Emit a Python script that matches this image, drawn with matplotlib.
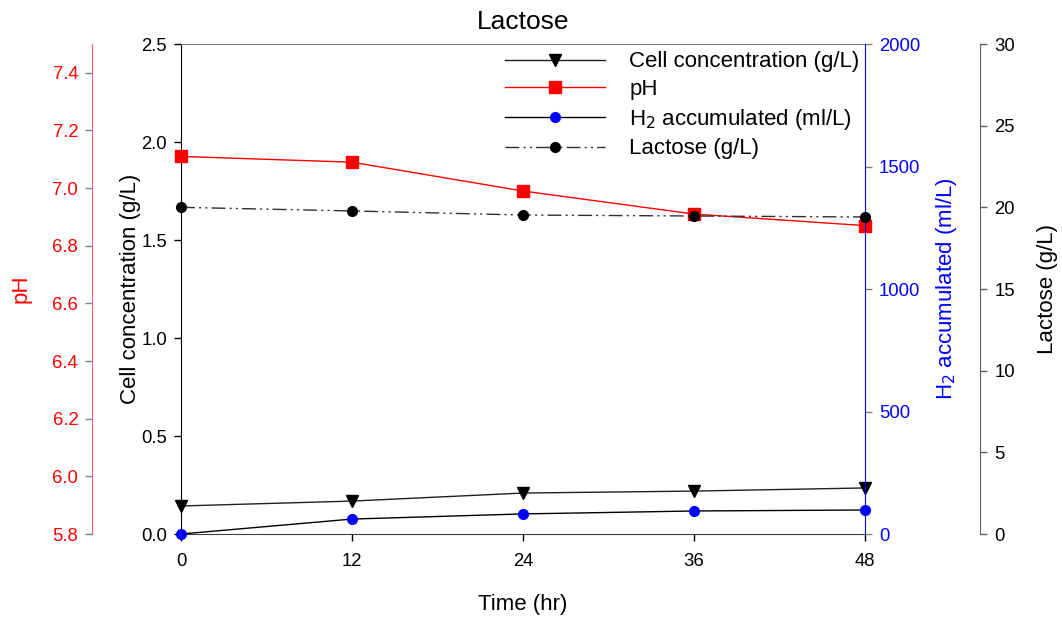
import matplotlib
matplotlib.use("Agg")
import matplotlib.pyplot as plt
from matplotlib.ticker import FormatStrFormatter

plt.rcParams['font.family'] = ['Liberation Sans', 'DejaVu Sans']
plt.rcParams['font.size'] = 13.3

time = [0, 12, 24, 36, 48]
cell_conc = [0.143, 0.168, 0.209, 0.219, 0.235]
ph = [7.11, 7.09, 6.99, 6.91, 6.87]
h2 = [0, 61, 82, 94, 98]
lactose = [20.0, 19.78, 19.53, 19.47, 19.41]

x_ticks = [0, 12, 24, 36, 48]
cell_ticks = [0.0, 0.5, 1.0, 1.5, 2.0, 2.5]
ph_ticks = [5.8, 6.0, 6.2, 6.4, 6.6, 6.8, 7.0, 7.2, 7.4]
h2_ticks = [0, 500, 1000, 1500, 2000]
lac_ticks = [0, 5, 10, 15, 20, 25, 30]

LABEL_FS = 16

fig = plt.figure(figsize=(10.62, 6.19), dpi=100)
ax = fig.add_axes([0.1704, 0.1373, 0.8145 - 0.1704, 0.9289 - 0.1373])

ax_ph = ax.twinx()
ax_h2 = ax.twinx()
ax_lac = ax.twinx()

tick_kw = dict(direction='out', length=5, width=1, pad=5)

# main axis (cell concentration)
ax.set_xlim(0, 48)
ax.set_ylim(0, 2.5)
ax.set_xticks(x_ticks)
ax.set_yticks(cell_ticks)
ax.yaxis.set_major_formatter(FormatStrFormatter('%.1f'))
ax.tick_params(axis='both', **tick_kw)
ax.tick_params(axis='x', pad=9)
ax.set_xlabel('Time (hr)', labelpad=17, fontsize=LABEL_FS)
ax.set_ylabel('Cell concentration (g/L)', labelpad=0, fontsize=LABEL_FS)
ax.spines['top'].set_color('#808080')
ax.spines['bottom'].set_color('#404040')
ax.spines['right'].set_visible(False)
ax.set_title('Lactose', fontsize=19, pad=11)

# pH axis
for s in ['top', 'right', 'bottom']:
    ax_ph.spines[s].set_visible(False)
ax_ph.spines['left'].set_visible(True)
ax_ph.spines['left'].set_position(('outward', 64))
ax_ph.spines['left'].set_color('#ff6666')
ax_ph.yaxis.set_ticks_position('left')
ax_ph.yaxis.set_label_position('left')
ax_ph.set_ylim(5.8, 7.5)
ax_ph.set_yticks(ph_ticks)
ax_ph.yaxis.set_major_formatter(FormatStrFormatter('%.1f'))
ax_ph.tick_params(axis='y', colors='red', **tick_kw)
ax_ph.tick_params(axis='y', color='#808080')
ax_ph.set_ylabel('pH', color='red', labelpad=15, fontsize=LABEL_FS)

# H2 axis
for s in ['top', 'left', 'bottom']:
    ax_h2.spines[s].set_visible(False)
ax_h2.spines['right'].set_color('blue')
ax_h2.set_ylim(0, 2000)
ax_h2.set_yticks(h2_ticks)
ax_h2.tick_params(axis='y', colors='blue', **tick_kw)
ax_h2.tick_params(axis='y', color='#808080')
ax_h2.set_ylabel('H$_2$ accumulated (ml/L)', color='blue', labelpad=10,
                 fontsize=LABEL_FS)

# Lactose axis
for s in ['top', 'left', 'bottom']:
    ax_lac.spines[s].set_visible(False)
ax_lac.spines['right'].set_position(('outward', 83))
ax_lac.spines['right'].set_color('#606060')
ax_lac.set_ylim(0, 30)
ax_lac.set_yticks(lac_ticks)
ax_lac.tick_params(axis='y', **tick_kw)
ax_lac.tick_params(axis='y', color='#606060')
ax_lac.set_ylabel('Lactose (g/L)', labelpad=16, fontsize=LABEL_FS)

l1, = ax.plot(time, cell_conc, color='#202020', lw=1, marker='v', ms=8,
              mfc='black', mec='black', clip_on=False, zorder=5,
              label='Cell concentration (g/L)')
l2, = ax_ph.plot(time, ph, color='red', lw=1, marker='s', ms=8,
                 mfc='red', mec='red', clip_on=False, zorder=5, label='pH')
l3, = ax_h2.plot(time, h2, color='black', lw=1, marker='o', ms=7,
                 mfc='blue', mec='blue', clip_on=False, zorder=5,
                 label='H$_2$ accumulated (ml/L)')
l4, = ax_lac.plot(time, lactose, color='#303030', lw=1, marker='o', ms=7,
                  mfc='black', mec='black', dashes=(10, 3, 1.5, 3, 1.5, 3),
                  clip_on=False, zorder=5, label='Lactose (g/L)')

leg = fig.legend(handles=[l1, l2, l3, l4], loc='upper left',
                 bbox_to_anchor=(505 / 1062, 0.917), frameon=False,
                 borderpad=0, borderaxespad=0,
                 handlelength=4.5, labelspacing=0.3, handletextpad=1.1,
                 fontsize=LABEL_FS)

fig.savefig('out.png', dpi=100)
